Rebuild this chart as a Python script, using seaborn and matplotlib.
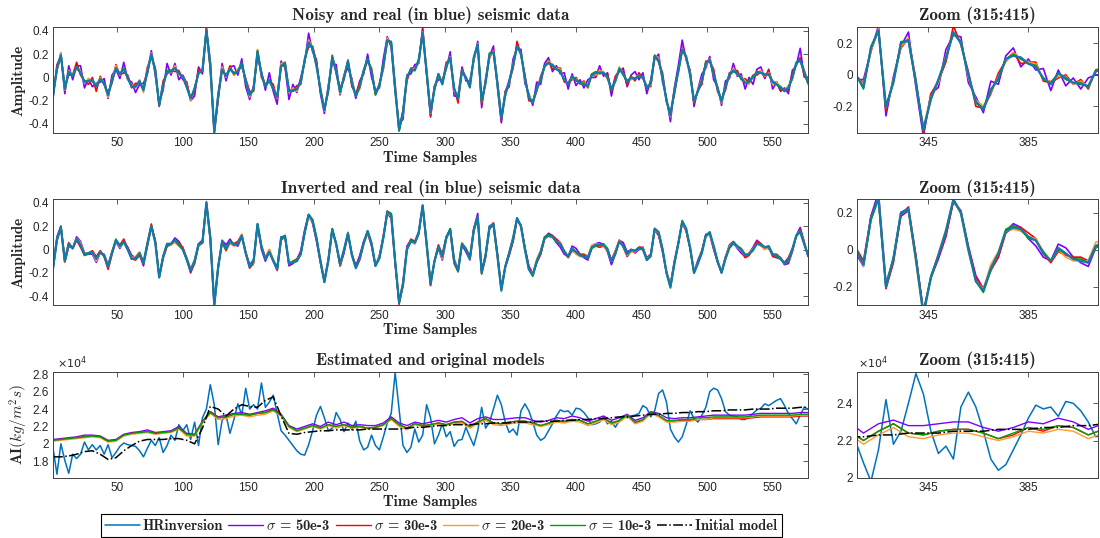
import numpy as np
import matplotlib
matplotlib.use('Agg')
import matplotlib.pyplot as plt
import seaborn as sns
from matplotlib.ticker import FuncFormatter

# sample grids (every 3rd sample for traces, every 6th for the smooth models)
samples = np.arange(1, 578, 3)
model_samples = np.arange(1, 578, 6)

# real seismic trace, in hundredths
real_trace = [
    -16, 8, 19, -10, 5, 1, 9, 4, -4, -3,
    -2, -8, -2, -5, -15, -3, 8, 3, 7, 0,
    -8, -8, -3, -11, 5, 20, 6, -24, -6, 5,
    5, 8, 4, 0, -8, -18, -10, 4, 6, 40,
    10, -47, -15, 7, 1, 7, 4, 5, 12, -3,
    -15, -10, 22, 3, -8, -2, -10, -17, 10, 12,
    -12, -11, -10, -4, 15, 30, 25, 10, -10, -28,
    -10, 17, 5, -12, 0, 14, -5, -16, -8, 6,
    16, 5, -14, -7, 10, 32, 30, -10, -45, -30,
    0, 7, 6, 15, 38, 5, -30, -10, 3, -6,
    10, 17, -10, -18, 5, 0, -8, 17, 28, -20,
    -5, 20, 22, -5, -35, -15, -3, 10, 27, 20,
    0, -17, -22, -10, -2, 10, 12, 11, 7, 5,
    -2, -6, 1, -2, -5, -6, -7, 2, 4, 4,
    4, 0, -10, -3, 7, 3, -4, 0, -1, 1,
    0, -9, -5, 18, 15, 0, -20, -32, -12, 5,
    24, 18, 2, -20, -12, -3, 12, 15, 3, -10,
    -20, -8, 2, 6, 3, 0, -5, -4, 0, 5,
    4, 2, 3, -4, -6, -8, -12, -9, 0, 12,
    15, 5, -5]

# noisy data minus real trace, in hundredths
noisy_50 = [
    3, -2, 2, -4, 5, -3, 1, 6, -5, 2,
    -6, 3, -2, 4, -3, 5, -1, -4, 6, -2,
    4, -5, -3, 6, -2, 3, -4, 2, -5, 7,
    -3, 4, -6, 2, 3, -2, -6, 5, -3, 2,
    4, -1, -3, 5, -4, 2, 6, -3, 4, -5,
    -4, 3, -5, 2, -3, 6, -2, -6, 4, -3,
    -7, 5, -3, 4, -2, 8, -3, 5, -4, -3,
    3, -5, 6, -3, 2, -6, 4, -2, 5, -3,
    4, -5, 3, -2, 6, 3, -4, -2, 5, -6,
    2, -4, 5, -3, 5, -2, -4, 3, -5, 4,
    -3, 5, -6, 2, 4, -3, 5, -2, 3, -6,
    4, -2, 5, -3, -4, 3, -5, 6, -2, 4,
    -5, 3, -2, 6, -4, 2, 5, -6, 3, -2,
    6, -4, 2, -5, 3, -3, 5, -2, -4, 6,
    -3, 4, -6, 3, -2, 5, -4, 2, 6, -3,
    4, -5, 3, -2, 5, -4, 2, -6, 3, 5,
    8, -3, 4, -5, 2, 6, -4, 3, -5, 2,
    -4, 5, -3, 6, -2, 3, -5, 4, -6, 2,
    5, -3, 4, -6, 2, -4, 3, -5, 6, -2,
    10, -4, 5]
noisy_30 = [
    -2, 3, -1, 2, -3, 1, 4, -2, 1, -3,
    2, -4, 3, -1, 2, -2, 3, -1, -3, 2,
    -1, 3, -2, 1, 4, -3, 2, -1, 3, -2,
    1, -3, 2, -2, 4, -1, -2, 3, -1, 2,
    -3, 1, -4, 2, -1, 3, -2, 1, -3, 2,
    3, -2, 1, -3, 2, -1, 4, -2, 1, -3,
    2, -1, 3, -2, 1, -4, 2, 3, -2, 1,
    -3, 2, -1, 3, -2, 1, -3, 2, 4, -1,
    -2, 3, -1, 2, -3, 1, -2, 4, -1, 2,
    -3, 1, 2, -2, 3, -1, -3, 2, -2, 1,
    3, -2, 1, -4, 2, -1, 3, -2, 1, -3,
    2, -3, 1, 2, -2, 3, -1, -2, 4, -1,
    2, -3, 1, -2, 3, -1, 2, -4, 1, 3,
    -2, 1, -3, 2, -1, 3, -2, 1, -3, 2,
    -1, 3, -2, 4, -1, 2, -3, 1, -2, 3,
    -1, 2, -3, 1, -2, 4, -1, 2, -3, 1,
    2, -1, 3, -2, 1, -3, 2, -1, 4, -2,
    1, -3, 2, -1, 3, -2, 4, -1, 2, -3,
    1, -2, 3, -1, 2, -3, 1, -2, 3, -1,
    2, -3, 1]
noisy_20 = [
    1, -2, 2, -1, 1, 2, -2, 1, -1, 2,
    -2, 1, 2, -1, -2, 1, 2, -1, 1, -2,
    2, -1, 1, -2, 2, 1, -1, 2, -2, 1,
    -1, 2, -2, 1, 1, -2, 2, -1, 1, -1,
    2, -2, 1, 2, -1, 1, -2, 2, -1, 1,
    -2, 1, 2, -1, 2, -2, 1, -1, 2, 1,
    -1, 2, -2, 1, -1, 2, 1, -2, 1, -1,
    2, -1, 1, -2, 2, -1, 2, 1, -2, 1,
    -1, 2, -1, 1, -2, 2, -1, 1, 2, -2,
    1, -1, 2, -2, 1, 2, -1, 1, -2, 2,
    -1, 1, -2, 2, 1, -1, 2, -2, 1, -1,
    2, -2, 1, -1, 2, 1, -2, 2, -1, 1,
    -2, 1, 2, -1, 1, -2, 2, -1, 1, 2,
    -1, 2, -2, 1, -1, 2, -1, 1, -2, 2,
    1, -2, 1, -1, 2, -1, 2, -2, 1, 1,
    -1, 2, -2, 1, 2, -1, 1, -2, 2, -1,
    1, -2, 2, -1, 1, 2, -2, 1, -1, 2,
    -2, 1, -1, 2, -1, 1, 2, -2, 1, -1,
    2, -1, 1, -2, 2, -1, 1, 2, -2, 1,
    -1, 2, -1]
noisy_10 = [
    1, -1, 0, 1, -1, 1, 0, -1, 1, 0,
    -1, 1, 1, -1, 0, 1, -1, 0, 1, -1,
    0, 1, -1, 1, 0, -1, 1, 0, -1, 1,
    1, 0, -1, 1, -1, 0, 1, -1, 0, 1,
    -1, 1, 0, -1, 1, 1, -1, 0, 1, -1,
    0, -1, 1, 0, 1, -1, 0, 1, -1, 1,
    1, -1, 0, 1, -1, 0, 1, 1, -1, 0,
    -1, 1, 0, -1, 1, 0, -1, 1, 1, -1,
    0, 1, -1, 0, 1, -1, 1, 0, -1, 1,
    1, -1, 0, 1, 0, -1, 1, -1, 0, 1,
    -1, 0, 1, -1, 1, 0, -1, 1, 0, -1,
    1, 1, -1, 0, 1, -1, 0, 1, -1, 1,
    0, -1, 1, 1, -1, 0, 1, -1, 0, 1,
    -1, 1, 0, -1, 0, 1, -1, 1, 1, -1,
    0, 1, -1, 0, 1, -1, 1, 0, -1, 1,
    1, -1, 0, 1, -1, 1, 0, -1, 1, 0,
    -1, 0, 1, -1, 1, 0, 1, -1, 0, 1,
    -1, 1, 0, -1, 1, -1, 0, 1, 1, -1,
    0, 1, -1, 1, 0, -1, 1, 0, -1, 1,
    -1, 0, 1]

# inverted data minus real trace, in hundredths
inv_50 = [
    2, 3, 1, -1, -2, 0, 2, 3, 1, -1,
    -2, -3, -1, 1, 2, 1, -1, -2, 0, 2,
    3, 1, -1, -3, -2, 0, 2, 1, -1, -2,
    0, 2, 3, 1, -1, -2, -1, 1, 2, 0,
    -2, -3, -1, 1, 3, 2, 0, -2, -1, 1,
    2, 1, -1, -3, -2, 0, 1, 2, 1, -1,
    -2, -1, 1, 3, 2, 0, -2, -3, -1, 1,
    2, 1, 0, -2, -3, -1, 1, 2, 3, 1,
    -1, -2, 0, 2, 1, -1, -3, -2, 0, 2,
    3, 1, -1, -2, 0, 1, 2, 0, -2, -3,
    -1, 1, 2, 1, -1, -2, -1, 1, 3, 2,
    0, -2, -1, 1, 2, 0, -2, -3, -1, 1,
    2, 3, 1, -1, -2, 0, 2, 1, -1, -3,
    -2, 0, 2, 3, 1, -1, -2, -1, 1, 2,
    0, -2, -3, -1, 1, 3, 2, 0, -2, -1,
    1, 2, 1, -1, -3, -2, 0, 1, 2, 1,
    -1, -2, -1, 1, 3, 2, 0, -2, -3, -1,
    1, 2, 1, 0, -2, -3, -1, 1, 2, 3,
    1, -1, -2, 0, 2, 1, -1, -3, -2, 0,
    4, 2, -1]
inv_30 = [
    -1, 0, 1, 2, 1, 0, -1, -2, -1, 0,
    1, 2, 1, -1, -2, -1, 0, 1, 2, 1,
    0, -1, -2, -1, 1, 2, 1, 0, -1, -2,
    -1, 0, 1, 2, 1, -1, -2, -1, 0, 1,
    2, 1, 0, -1, -2, -1, 1, 2, 1, 0,
    -1, -2, -1, 0, 1, 2, 1, -1, -2, -1,
    0, 1, 2, 1, 0, -1, -2, -1, 1, 2,
    1, 0, -1, -2, -1, 0, 1, 2, 1, -1,
    -2, -1, 0, 1, 2, 1, 0, -1, -2, -1,
    1, 2, 1, 0, -1, -2, -1, 0, 1, 2,
    1, -1, -2, -1, 0, 1, 2, 1, 0, -1,
    -2, -1, 1, 2, 1, 0, -1, -2, -1, 0,
    1, 2, 1, -1, -2, -1, 0, 1, 2, 1,
    0, -1, -2, -1, 1, 2, 1, 0, -1, -2,
    -1, 0, 1, 2, 1, -1, -2, -1, 0, 1,
    2, 1, 0, -1, -2, -1, 1, 2, 1, 0,
    -1, -2, -1, 0, 1, 2, 1, -1, -2, -1,
    0, 1, 2, 1, 0, -1, -2, -1, 1, 2,
    1, 0, -1, -2, -1, 0, 1, 2, 1, -1,
    2, 1, 0]
inv_20 = [
    1, 1, 0, -1, -1, 0, 1, 2, 1, 0,
    -1, -2, -1, 0, 1, 1, 0, -1, -1, 0,
    1, 2, 1, 0, -1, -1, 0, 1, 1, 0,
    -1, -2, -1, 0, 1, 2, 1, 0, -1, -1,
    0, 1, 1, 0, -1, -2, -1, 0, 1, 1,
    0, -1, -1, 0, 1, 2, 1, 0, -1, -1,
    0, 1, 1, 0, -1, -2, -1, 0, 1, 2,
    1, 0, -1, -1, 0, 1, 1, 0, -1, -2,
    -1, 0, 1, 1, 0, -1, -1, 0, 1, 2,
    1, 0, -1, -1, 0, 1, 1, 0, -1, -2,
    -1, 0, 1, 2, 1, 0, -1, -1, 0, 1,
    1, 0, -1, -2, -1, 0, 1, 1, 0, -1,
    -1, 0, 1, 2, 1, 0, -1, -1, 0, 1,
    1, 0, -1, -2, -1, 0, 1, 2, 1, 0,
    -1, -1, 0, 1, 1, 0, -1, -2, -1, 0,
    1, 1, 0, -1, -1, 0, 1, 2, 1, 0,
    -1, -1, 0, 1, 1, 0, -1, -2, -1, 0,
    1, 2, 1, 0, -1, -1, 0, 1, 1, 0,
    -1, -2, -1, 0, 1, 1, 0, -1, -1, 0,
    1, 1, 0]
inv_10 = [
    0, 1, 1, 0, -1, 0, 1, 0, -1, -1,
    0, 1, 0, -1, 0, 1, 1, 0, -1, 0,
    0, 1, 0, -1, -1, 0, 1, 1, 0, -1,
    0, 0, 1, 0, -1, 0, 1, 1, 0, -1,
    -1, 0, 1, 0, -1, 0, 1, 0, -1, 0,
    1, 1, 0, -1, 0, 0, 1, 0, -1, -1,
    0, 1, 1, 0, -1, 0, 1, 0, -1, 0,
    0, 1, 0, -1, -1, 0, 1, 1, 0, -1,
    0, 1, 0, -1, 0, 1, 1, 0, -1, 0,
    0, 1, 0, -1, -1, 0, 1, 0, -1, 0,
    1, 1, 0, -1, 0, 1, 0, -1, -1, 0,
    1, 0, -1, 0, 1, 1, 0, -1, 0, 0,
    1, 0, -1, -1, 0, 1, 1, 0, -1, 0,
    1, 0, -1, 0, 0, 1, 0, -1, -1, 0,
    1, 1, 0, -1, 0, 1, 0, -1, 0, 1,
    1, 0, -1, 0, 0, 1, 0, -1, -1, 0,
    1, 0, -1, 0, 1, 1, 0, -1, 0, 0,
    1, 0, -1, -1, 0, 1, 1, 0, -1, 0,
    1, 0, -1, 0, 1, 1, 0, -1, -1, 0,
    1, 0, 0]

# acoustic impedance models, in units of 100 kg/m^2s
hr_inversion = [
    195, 165, 200, 181, 166, 188, 183, 188, 202, 193,
    199, 193, 198, 188, 199, 184, 190, 197, 201, 199,
    198, 197, 192, 185, 195, 204, 198, 207, 190, 198,
    210, 204, 222, 215, 222, 205, 225, 198, 230, 240,
    268, 245, 199, 227, 233, 212, 228, 246, 233, 264,
    240, 245, 240, 270, 242, 248, 256, 235, 215, 210,
    204, 198, 192, 188, 187, 199, 215, 233, 243, 230,
    215, 218, 236, 228, 214, 224, 216, 226, 203, 193,
    196, 210, 198, 193, 208, 224, 235, 282, 240, 198,
    190, 196, 217, 202, 210, 245, 230, 200, 210, 223,
    208, 214, 197, 204, 205, 219, 208, 198, 215, 242,
    218, 225, 240, 256, 245, 225, 213, 217, 210, 238,
    246, 238, 225, 210, 204, 207, 215, 223, 232, 239,
    237, 238, 233, 241, 240, 236, 230, 222, 223, 225,
    231, 223, 226, 219, 227, 232, 230, 232, 233, 235,
    244, 241, 231, 238, 258, 262, 248, 217, 208, 202,
    208, 222, 238, 229, 225, 233, 242, 260, 264, 262,
    252, 237, 233, 232, 231, 228, 228, 231, 235, 239,
    241, 246, 244, 247, 250, 252, 244, 235, 229, 223,
    233, 242, 240]
model_10 = [
    204, 205, 206, 207, 208, 209, 208, 203, 204, 210,
    212, 213, 214, 212, 213, 214, 218, 211, 210, 225,
    236, 230, 231, 234, 234, 233, 235, 236, 239, 233,
    220, 215, 218, 221, 218, 222, 220, 222, 219, 220,
    218, 219, 222, 229, 222, 218, 223, 221, 222, 224,
    222, 225, 226, 220, 225, 229, 224, 223, 225, 226,
    226, 224, 221, 224, 227, 226, 228, 227, 223, 226,
    230, 224, 227, 233, 225, 228, 236, 233, 227, 227,
    228, 228, 230, 230, 231, 231, 231, 231, 231, 232,
    233, 233, 233, 233, 233, 234, 234]
# other estimates relative to the sigma = 10e-3 model
model_50_diff = [
    1, 1, 1, 1, 2, 1, 1, 1, 1, 1,
    1, 1, 2, 1, 1, 1, 2, 1, 1, 1,
    1, 1, 2, 1, 2, 1, 1, 2, 2, 1,
    1, 2, 2, 2, 2, 3, 2, 3, 2, 2,
    3, 2, 2, 2, 2, 3, 2, 2, 3, 3,
    3, 3, 4, 4, 4, 2, 4, 5, 4, 4,
    4, 3, 4, 3, 3, 3, 4, 3, 3, 3,
    2, 3, 3, 1, 2, 2, 1, 2, 3, 2,
    2, 2, 1, 2, 2, 2, 2, 2, 2, 2,
    2, 2, 2, 2, 2, 2, 2]
model_30_diff = [
    0, 0, 0, 0, 0, 0, 0, 0, 0, 0,
    0, 0, 0, 0, 0, 0, 0, -1, 0, 0,
    1, 0, 0, 0, 0, 0, 0, 0, 1, 0,
    0, 0, 0, 0, 0, 0, 0, 0, 0, 0,
    0, 0, 0, 0, 0, 0, 0, 0, 0, 0,
    0, 0, -1, 0, 0, 0, 0, 0, 0, 0,
    0, 0, 0, -1, 0, -1, 0, 0, 0, 0,
    -1, 0, -1, 0, -1, -1, 0, -1, -1, -1,
    -1, -1, -2, -2, -2, -2, -2, -2, -2, -2,
    -2, -2, -2, -2, -2, -2, -2]
model_20_diff = [
    -1, -1, -1, -1, -1, -1, -1, -1, -1, -1,
    -1, -1, -1, -1, -1, -1, -1, -2, -1, -1,
    -1, -2, -2, -2, -1, -2, -2, -2, -1, -1,
    -1, -1, -1, -1, -1, -1, -2, -1, -1, -1,
    -1, -1, -1, -1, -2, -2, -1, -1, -1, -1,
    -1, -2, -2, -2, -2, -2, -2, -2, -2, -2,
    -2, -2, -1, -2, -2, -2, -2, -2, -2, -2,
    -2, -2, -2, -1, -2, -2, -1, -2, -2, -2,
    -2, -2, -2, -2, -1, -1, -1, -1, -1, -1,
    -1, -1, -1, -1, -1, -1, -1]
initial_model = [
    185, 185, 186, 188, 191, 192, 188, 182, 184, 192,
    198, 203, 205, 205, 205, 206, 206, 204, 200, 218,
    243, 240, 232, 240, 245, 243, 242, 250, 254, 232,
    212, 211, 213, 214, 215, 215, 216, 216, 216, 216,
    217, 217, 217, 217, 217, 218, 219, 219, 220, 221,
    221, 222, 222, 222, 223, 223, 224, 224, 224, 225,
    225, 225, 226, 226, 226, 227, 227, 228, 228, 229,
    229, 230, 231, 231, 232, 233, 234, 234, 235, 235,
    236, 236, 237, 237, 238, 238, 239, 239, 239, 240,
    240, 240, 241, 241, 241, 242, 242]

legend_labels = ['HRinversion', r'$\sigma$ = 50e-3', r'$\sigma$ = 30e-3',
                 r'$\sigma$ = 20e-3', r'$\sigma$ = 10e-3', 'Initial model']

c_blue = '#0072BD'
c_real = '#107AAE'
sigma_colors = ['#8000FF', '#FF0000', '#FF9933', '#00A000']

sns.set_theme(style='white')
plt.rcParams['font.family'] = ['Liberation Sans', 'DejaVu Sans']
plt.rcParams['mathtext.fontset'] = 'cm'
plt.rcParams['axes.unicode_minus'] = False

SERIF = 'cmb10'
FS_TITLE = 12.3
FS_LABEL = 11
FS_LEG = 10.5

real = np.array(real_trace) / 100

fig = plt.figure(figsize=(11, 5.38), dpi=100)
rows = [0.7522, 0.4322, 0.1121]
h = 0.197
axes_main = [fig.add_axes([0.0482, b, 0.6864, h]) for b in rows]
axes_zoom = [fig.add_axes([0.7793, b, 0.2191, h]) for b in rows]

fmt_plain = FuncFormatter(lambda v, p: f'{v:g}')
fmt_e4 = FuncFormatter(lambda v, p: f'{v / 1e4:g}')


def style(ax, xlim, ylim, xticks, yticks, fmt):
    if ax.get_legend() is not None:
        ax.get_legend().remove()
    ax.set_xlim(xlim)
    ax.set_ylim(ylim)
    ax.set_xticks(xticks)
    ax.set_yticks(yticks)
    ax.yaxis.set_major_formatter(fmt)
    ax.set_xlabel('')
    ax.set_ylabel('')
    ax.tick_params(direction='in', top=True, right=True, length=3.5, width=0.6,
                   color='#404040', labelsize=8.5, labelcolor='#262626', pad=3)
    for sp in ax.spines.values():
        sp.set_color('#404040')
        sp.set_linewidth(0.7)


def draw_traces(ax, diffs):
    for d, col in zip(diffs, sigma_colors):
        sns.lineplot(x=samples, y=real + np.array(d) / 100, ax=ax, color=col, lw=1.2)
    sns.lineplot(x=samples, y=real, ax=ax, color=c_real, lw=1.6)


def draw_models(ax):
    base = np.array(model_10)
    sns.lineplot(x=samples, y=np.array(hr_inversion) * 100, ax=ax, color=c_blue,
                 lw=1.1, label=legend_labels[0])
    for d, col, lab in zip([model_50_diff, model_30_diff, model_20_diff], sigma_colors[:3],
                           legend_labels[1:4]):
        sns.lineplot(x=model_samples, y=(base + np.array(d)) * 100, ax=ax, color=col,
                     lw=1.0, label=lab)
    sns.lineplot(x=model_samples, y=base * 100, ax=ax, color=sigma_colors[3], lw=1.0,
                 label=legend_labels[4])
    sns.lineplot(x=model_samples, y=np.array(initial_model) * 100, ax=ax, color='black',
                 lw=1.1, linestyle='-.', label=legend_labels[5])


main_xticks = np.arange(50, 551, 50)
zoom_xlim = (316.5, 413)
amp_ticks = [-0.4, -0.2, 0, 0.2, 0.4]
zoom_ylims = [(-0.37, 0.30), (-0.30, 0.27)]

# noisy and inverted traces
for i, diffs in enumerate([[noisy_50, noisy_30, noisy_20, noisy_10],
                           [inv_50, inv_30, inv_20, inv_10]]):
    draw_traces(axes_main[i], diffs)
    style(axes_main[i], (1, 577), (-0.48, 0.43), main_xticks, amp_ticks, fmt_plain)
    draw_traces(axes_zoom[i], diffs)
    style(axes_zoom[i], zoom_xlim, zoom_ylims[i], [345, 385], [-0.2, 0, 0.2], fmt_plain)
    axes_main[i].set_ylabel('Amplitude', fontfamily=SERIF, fontsize=FS_LABEL, labelpad=2)
    axes_main[i].set_xlabel('Time Samples', fontfamily=SERIF, fontsize=FS_LABEL, labelpad=1)

axes_main[0].set_title('Noisy and real (in blue) seismic data', fontfamily=SERIF,
                       fontsize=FS_TITLE, pad=5)
axes_main[1].set_title('Inverted and real (in blue) seismic data', fontfamily=SERIF,
                       fontsize=FS_TITLE, pad=5)

# models
draw_models(axes_main[2])
handles, labels = axes_main[2].get_legend_handles_labels()
style(axes_main[2], (1, 577), (16100, 28300), main_xticks, np.arange(18000, 28001, 2000),
      fmt_e4)
draw_models(axes_zoom[2])
style(axes_zoom[2], zoom_xlim, (20000, 25700), [345, 385], [20000, 22000, 24000], fmt_e4)
axes_main[2].set_title('Estimated and original models', fontfamily=SERIF,
                       fontsize=FS_TITLE, pad=5)
axes_main[2].set_xlabel('Time Samples', fontfamily=SERIF, fontsize=FS_LABEL, labelpad=1)
axes_main[2].set_ylabel('AI$(kg/m^2s)$', fontfamily=SERIF, fontsize=FS_LABEL, labelpad=2)

for ax in axes_zoom:
    ax.set_title('Zoom (315:415)', fontfamily=SERIF, fontsize=FS_TITLE, pad=5)

for ax in [axes_main[2], axes_zoom[2]]:
    ax.text(0.005, 1.01, r'$\times10^{4}$', transform=ax.transAxes, fontsize=8,
            color='#262626', ha='left', va='bottom', math_fontfamily='dejavusans')

leg = fig.legend(handles, labels, loc='lower center', bbox_to_anchor=(0.401, 0.001), ncol=6,
                 frameon=True, fancybox=False, edgecolor='black', framealpha=1,
                 prop={'family': SERIF, 'size': FS_LEG}, handlelength=2.4,
                 handletextpad=0.2, columnspacing=0.35, borderpad=0.3, borderaxespad=0)
leg.get_frame().set_linewidth(0.8)

fig.savefig('out.png', dpi=100)
